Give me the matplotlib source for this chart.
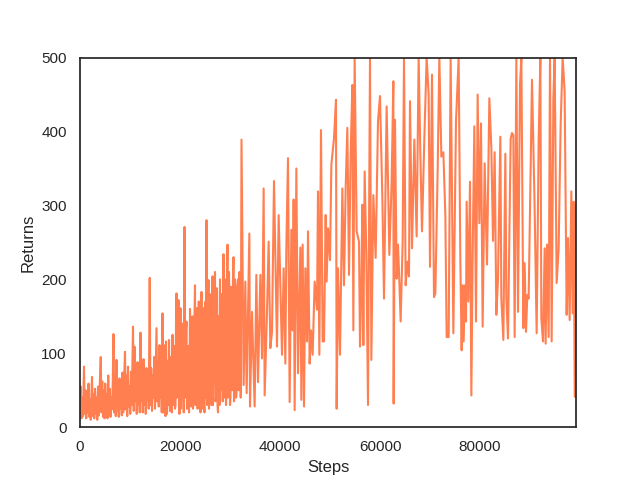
import matplotlib
matplotlib.use("Agg")
from matplotlib import pyplot as plt
import seaborn as sns

# 训练过程中每个episode的回报（从图上读出来的，前期很密，只取了大概）
steps_early = [0, 150, 300, 450, 600, 800, 950, 1100, 1250, 1400, 1550, 1700, 1850, 2000, 2150,
               2400, 2550, 2700, 2850, 3000, 3150, 3300, 3450, 3600, 3750, 3900, 4150, 4300, 4450,
               4600, 4750, 4900, 5050, 5200, 5350, 5500, 5650, 5800, 5950, 6100, 6250, 6400, 6550,
               6700, 6850, 7000, 7150, 7300, 7450, 7600, 7750, 7900, 8050, 8200, 8350, 8500, 8650,
               8800, 9000, 9150, 9300, 9450, 9600, 9750, 9900, 10050, 10200, 10350, 10600, 10750,
               10900, 11050, 11200, 11350, 11500, 11650, 11800, 11950, 12100, 12250, 12400, 12550,
               12700, 12850, 13000, 13150, 13300, 13450, 13600, 13750, 13940, 14100, 14250, 14400,
               14550, 14700, 14850, 15000, 15300, 15450, 15600, 15750, 15900, 16050, 16200, 16350,
               16500, 16650]
returns_early = [22, 55, 12, 40, 15, 82, 18, 50, 12, 48, 20, 59, 14, 38, 10,
                 68, 15, 45, 12, 52, 18, 40, 10, 55, 16, 48, 95, 20, 62,
                 14, 50, 12, 59, 22, 44, 12, 70, 18, 52, 14, 40, 24, 60,
                 126, 20, 72, 15, 91, 22, 58, 14, 66, 25, 48, 16, 74, 20,
                 60, 102, 24, 70, 15, 82, 28, 55, 18, 75, 30, 136, 22,
                 109, 35, 68, 18, 88, 30, 60, 20, 128, 35, 78, 20,
                 92, 30, 65, 18, 80, 38, 56, 25, 202, 30, 80, 22,
                 70, 40, 95, 25, 134, 35, 90, 28, 111, 40, 72, 20,
                 154, 20]

steps_mid = [16800, 16900, 17000, 17100, 17200, 17300, 17400, 17500, 17600, 17700, 17800, 17900,
             18000, 18120, 18250, 18370, 18500, 18600, 18700, 18800, 18900, 19000, 19100, 19200,
             19300, 19400, 19500, 19600, 19700, 19800, 19900, 20000, 20100, 20200, 20300, 20450,
             20600, 20750, 20900, 21000, 21100, 21200, 21300, 21400, 21500, 21600, 21700, 21800,
             21900, 22000, 22100, 22200, 22300, 22400, 22500, 22600, 22700, 22850, 23000, 23100,
             23200, 23300, 23400, 23500, 23600, 23750, 23900, 24000, 24100, 24200, 24300, 24400,
             24500, 24600, 24700, 24800, 24900, 25000, 25100, 25200, 25300, 25400, 25500, 25600,
             25700, 25800, 25900, 26000, 26100, 26200, 26300, 26400, 26500, 26600, 26700, 26850,
             27000, 27100, 27200, 27300, 27400, 27500, 27600, 27700, 27800, 27900, 28000, 28100,
             28200, 28300, 28400, 28550, 28700, 28800, 28900, 29000, 29100, 29200, 29300, 29400,
             29500, 29600, 29700, 29800, 29900, 30000, 30100, 30200, 30300, 30400, 30500, 30600,
             30700, 30800, 30900, 31000, 31100, 31200, 31300, 31450, 31600, 31700, 31800, 31900,
             32000, 32150, 32300]
returns_mid = [111, 25, 70, 15, 116, 35, 18, 80, 90, 30, 118, 40,
               22, 95, 70, 20, 125, 30, 45, 110, 100, 25, 30, 140,
               181, 40, 55, 150, 172, 30, 18, 120, 161, 25, 60, 140,
               100, 20, 271, 60, 40, 130, 143, 25, 30, 110, 107, 20,
               60, 160, 120, 30, 28, 140, 150, 25, 35, 130, 192, 30,
               45, 150, 161, 25, 30, 170, 120, 30, 20, 140, 183, 25,
               40, 150, 161, 30, 20, 130, 170, 40, 280, 30, 50, 170,
               199, 25, 60, 180, 170, 40, 30, 150, 204, 30, 80, 190,
               210, 35, 40, 160, 188, 30, 20, 150, 120, 30, 200, 60,
               50, 180, 150, 35, 234, 60, 40, 200, 180, 30, 70, 200,
               247, 40, 90, 210, 150, 30, 40, 190, 180, 50, 100, 200,
               230, 35, 60, 200, 160, 40, 45, 190, 200, 50, 60, 210,
               150, 40, 389]

steps_late = [32730, 33070, 33330, 33870, 34000, 34400, 34930, 35270, 35600, 36070, 36400, 36730,
              36930, 37400, 37730, 38070, 38400, 38800, 39400, 39730, 40400, 40730, 41070, 41270,
              41600, 41930, 42270, 42530, 42730, 42930, 43270, 43600, 44070, 44270, 44530, 44800,
              45070, 45400, 45600, 45930, 46200, 46530, 46930, 47400, 47600, 47870, 48200, 48530,
              48800, 49130, 49330,
              49600, 50000, 50270, 50800, 51200, 51330, 51600, 52000, 52470, 52800, 53130, 53470,
              53800, 54130, 54470, 54670, 54930, 55330, 55800, 56000, 56270, 56470, 56670, 56930,
              57270, 57600, 58000, 58270, 58670, 59130, 59600, 60000, 60470, 60800, 61330, 61870,
              62330, 62670, 62730, 63000, 63330, 63600, 63870, 64130, 64530, 64800, 65130, 65470,
              65800]
returns_late = [57, 197, 46, 262, 28, 156, 28, 206, 61, 206, 93, 323,
                43, 156, 251, 107, 129, 333, 109, 287, 98, 215, 86, 243,
                364, 34, 267, 131, 308, 23, 350, 73, 243, 37, 247, 28,
                215, 116, 265, 86, 131, 98, 197, 159, 319, 98, 402, 116,
                116, 287, 197,
                269, 226, 355, 391, 443, 25, 215, 98, 323, 192, 323, 405,
                206, 369, 463, 131, 500, 265, 251, 109, 188, 301, 111, 346,
                233, 30, 500, 91, 314, 229, 414, 448, 310, 174, 434, 233,
                332, 468, 32, 416, 201, 247, 197, 143, 251, 500, 192, 224,
                204]

steps_end = [66000, 66400, 66870, 67330, 67730, 68070, 68400, 68870, 69330, 69730, 70000, 70400,
             70800, 71070, 71530, 71870, 72270, 72670, 73070, 73330, 73730, 74130, 74670, 75200,
             75730, 76070, 76330, 76530, 76730, 77000, 77200, 77330, 77670, 78000, 78270, 78530,
             78870, 79200, 79530, 79870, 80200, 80530, 80930, 81400, 81870,
             82270, 82600, 82930, 83270, 83600, 84070, 84270, 84670, 85070, 85270, 85600, 86130,
             86400, 86670, 86930, 87270, 87600, 88000, 88270, 88670, 88930, 89200, 89470, 89730,
             90400, 90930, 91330, 91730, 92070, 92270, 92600, 92930, 93130, 93400, 93730, 94000,
             94330, 94670, 94930, 95330, 95730, 96130, 96530, 96930, 97330, 97600, 97930, 98270,
             98530, 98730, 98950, 99200]
returns_end = [441, 242, 389, 258, 500, 369, 265, 391, 500, 450, 217, 477,
               176, 181, 346, 500, 366, 372, 287, 122, 122, 500, 127, 414,
               500, 224, 104, 192, 116, 192, 143, 305, 170, 332, 43, 233,
               407, 143, 450, 276, 411, 136, 357, 220, 445,
               378, 252, 372, 152, 201, 393, 174, 118, 370, 174, 120, 390,
               398, 395, 122, 500, 156, 463, 500, 134, 222, 129, 179, 174,
               470, 296, 127, 387, 500, 147, 116, 242, 113, 247, 122, 500,
               116, 445, 500, 195, 242, 409, 500, 454, 152, 256, 145, 319,
               154, 305, 41, 300]

steps = steps_early + steps_mid + steps_late + steps_end
returns = returns_early + returns_mid + returns_late + returns_end

sns.set_theme(style="white")
plt.rcParams["font.family"] = ["Liberation Sans", "DejaVu Sans"]

fig = plt.figure(figsize=(6.4, 4.8), dpi=100)
plt.plot(steps, returns, color="coral")
plt.xlim(0, steps[-1])
plt.ylim(0, 500)
plt.xlabel("Steps")
plt.ylabel("Returns")
plt.savefig("out.png")
